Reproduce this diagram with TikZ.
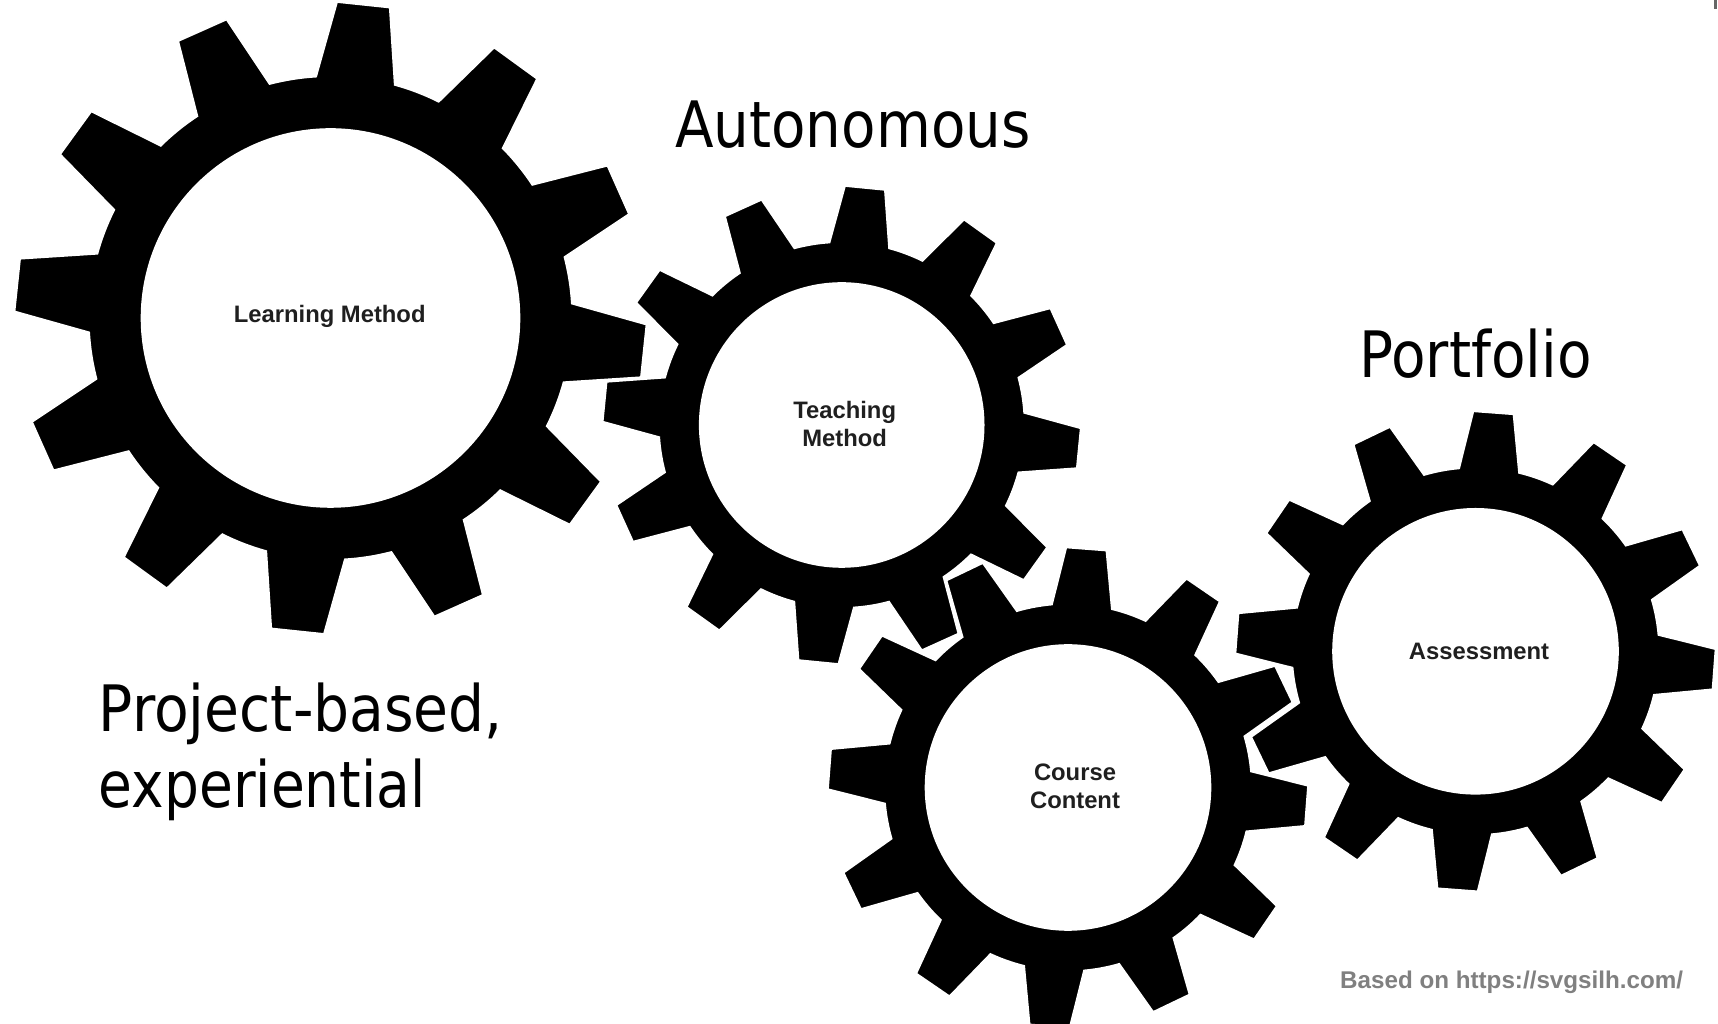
\documentclass[tikz,border=0pt]{standalone}
\usepackage{fontspec}
\usepackage{graphicx}
\newfontfamily\tahomalike{DejaVu Sans}
\newfontfamily\arialfont{Liberation Sans}
\tikzset{
  gearshape/.style={fill=black, draw=white, line width=1.6pt, even odd rule},
  gearlabel/.style={font=\arialfont\bfseries\fontsize{23.8}{28.4}\selectfont, text=black!88, inner sep=0pt, align=center},
  bigtext/.style={font=\tahomalike\fontsize{64}{76}\selectfont, inner sep=0pt, anchor=base west},
  credittext/.style={font=\arialfont\bfseries\fontsize{24.2}{28}\selectfont, text=black!50, inner sep=0pt, anchor=base west},
}
% #1 cx, #2 cy, #3 tip radius, #4 angle of first tooth, #5 hole radius
\newcommand{\drawgear}[5]{%
  \path[gearshape, shift={(#1,#2)}]
    ({#4-9.4}:{0.765*#3})
    \foreach \k in {0,...,11}{
      -- ({#4+30*\k-4.8}:{#3})
      -- ({#4+30*\k+4.8}:{#3})
      -- ({#4+30*\k+9.4}:{0.765*#3})
      arc[start angle={#4+30*\k+9.4}, end angle={#4+30*\k+20.6}, radius={0.765*#3}]
    }
    -- cycle
    (0,0) circle[radius={#5}];
}
\begin{document}
\begin{tikzpicture}[x=1pt,y=1pt]
\useasboundingbox (0,0) rectangle (1718,1024);
\fill[white] (0,0) rectangle (1718,1024);

% gears (A, D, C, B order so B lies over C and C over D)
\drawgear{330.5}{706}{316}{84}{189}
\drawgear{1475.5}{372.7}{240}{85.7}{142.5}
\drawgear{1068}{236.5}{240}{85.6}{142.5}
\drawgear{841.7}{599}{239}{84.4}{142}

% gear labels
\node[gearlabel, anchor=base] (learning) at (329.7,701.3) {Learning Method};
\node[gearlabel] (teaching) at (844.7,599.9) {Teaching\\Method};
\node[gearlabel] (course) at (1075,237.4) {Course\\Content};
\node[gearlabel, anchor=base] (assessment) at (1479,364) {Assessment};

% big captions
\node[bigtext] (autonomous) at (675,876) {\scalebox{0.88}[1]{Autonomous}};
\node[bigtext] (portfolio) at (1359,646) {\scalebox{0.883}[1]{Portfolio}};
\node[bigtext] (project) at (98.6,292) {\scalebox{0.887}[1]{Project-based,}};
\node[bigtext] (experiential) at (98.6,216) {\scalebox{0.86}[1]{experiential}};

% credit
\node[credittext] (credit) at (1340,35.7) {Based on https://svgsilh.com/};

% small mark at the top right corner
\fill[black!60] (1714,1015) rectangle (1717,1024);
\end{tikzpicture}
\end{document}
